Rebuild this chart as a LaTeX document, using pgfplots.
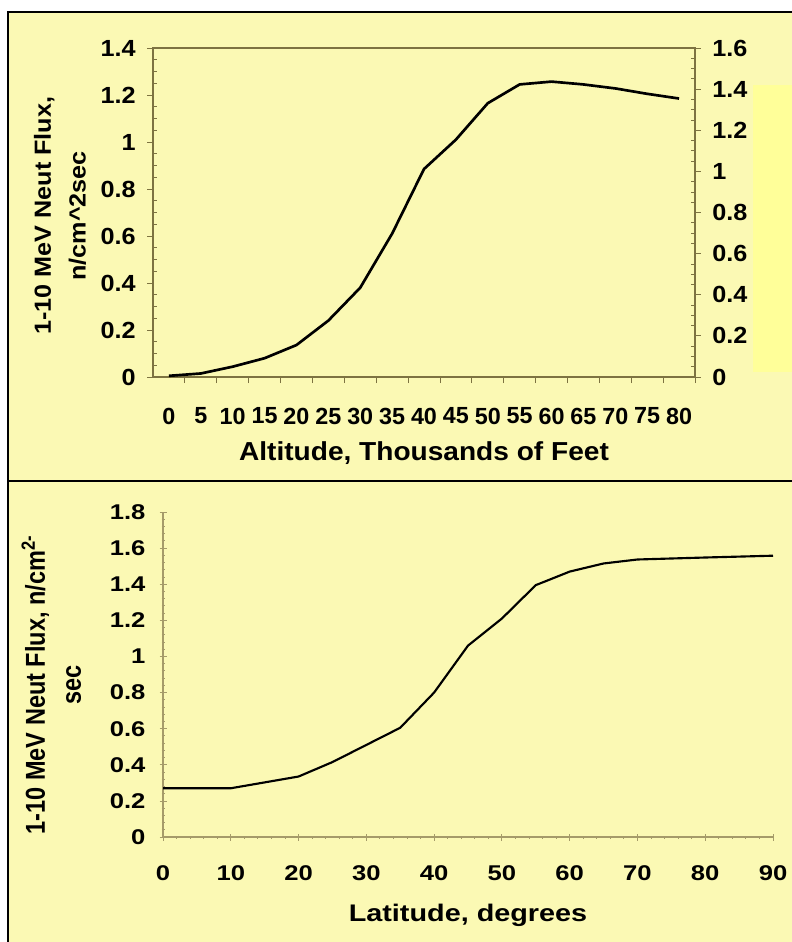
\documentclass[border=0pt]{standalone}
\usepackage{fontspec}
\usepackage{pgfplots}
\pgfplotsset{compat=1.18}
\setmainfont{Liberation Sans}
\newfontfamily\topfont{Liberation Sans}[FakeStretch=1.08]
\newfontfamily\plainfont{Liberation Sans}
\newfontfamily\botfont{Liberation Sans}[FakeStretch=1.2]
\newfontfamily\botyfont{Liberation Sans}[FakeStretch=0.86]
\definecolor{bg}{RGB}{251,249,180}
\definecolor{hl}{RGB}{255,255,153}
\definecolor{axc}{RGB}{125,115,65}
\definecolor{axc2}{RGB}{165,155,105}
\begin{document}
\begin{tikzpicture}
\useasboundingbox (0,0) rectangle (594pt,-706.5pt);
\fill[white] (0,0) rectangle (594pt,-706.5pt);
\fill[bg] (6pt,-9pt) rectangle (594pt,-706.5pt);
\fill[hl] (564.75pt,-63.75pt) rectangle (594pt,-279pt);
\draw[line width=1.6pt] (6pt,-706.5pt) -- (6pt,-9pt) -- (594pt,-9pt);
\draw[line width=1.6pt] (6pt,-360.75pt) -- (594pt,-360.75pt);

% ---------- top chart ----------
\begin{axis}[
  at={(114.75pt,-282.75pt)}, anchor=south west,
  scale only axis, width=406.5pt, height=246.75pt,
  xmin=-2.5, xmax=82.5, ymin=0, ymax=1.4,
  axis line style={draw=axc, line width=0.8pt},
  every tick/.style={draw=axc, line width=0.6pt},
  tick align=outside,
  major tick length=4.5pt, minor tick length=3pt,
  xtick={2.5,7.5,...,82.5},
  xticklabels={0,5,10,15,20,25,30,35,40,45,50,55,60,65,70,75,80},
  ytick={0,0.2,0.4,0.6,0.8,1,1.2,1.4},
  yticklabels={0,0.2,0.4,0.6,0.8,1,1.2,1.4},
  minor ytick={0.05,0.1,0.15,0.25,0.3,0.35,0.45,0.5,0.55,0.65,0.7,0.75,0.85,0.9,0.95,1.05,1.1,1.15,1.25,1.3,1.35},
  minor y tick style={xshift=3pt},
  xtick pos=bottom, ytick pos=left,
  /pgf/number format/assume math mode=true,
  yticklabel style={xshift=-5pt, font=\topfont\bfseries\fontsize{17.5}{19}\selectfont},
  xticklabel style={xshift=-11.96pt, yshift=-15pt, font=\plainfont\bfseries\fontsize{17.5}{19}\selectfont},
  xlabel={Altitude, Thousands of Feet},
  xlabel style={at={(axis description cs:0.5,-0.23)}, anchor=center, font=\topfont\bfseries\fontsize{19.5}{22}\selectfont},
  ylabel={1-10 MeV Neut Flux,\\n/cm\textasciicircum 2sec},
  ylabel style={at={(axis description cs:-0.1716,0.49)}, anchor=center, rotate=0, align=center, font=\topfont\bfseries\fontsize{17.5}{26}\selectfont},
]
\addplot[black, line width=2pt] coordinates {
 (0,0.005) (5,0.015) (10,0.044) (15,0.08) (20,0.136) (25,0.24) (30,0.38)
 (35,0.61) (40,0.885) (45,1.01) (50,1.165) (55,1.245) (60,1.257) (65,1.245)
 (70,1.228) (75,1.205) (80,1.185)
};
\end{axis}
\begin{axis}[
  at={(114.75pt,-282.75pt)}, anchor=south west,
  scale only axis, width=406.5pt, height=246.75pt,
  xmin=-2.5, xmax=82.5, ymin=0, ymax=1.6,
  axis x line=none, axis y line*=right,
  axis line style={draw=axc, line width=0.8pt, -},
  every tick/.style={draw=axc, line width=0.6pt},
  tick align=outside,
  major tick length=4.5pt, minor tick length=3pt,
  ytick={0,0.2,0.4,0.6,0.8,1,1.2,1.4,1.6},
  yticklabels={0,0.2,0.4,0.6,0.8,1,1.2,1.4,1.6},
  yticklabel style={xshift=5pt},
  minor y tick num=3,
  minor y tick style={xshift=-3pt},
  ticklabel style={font=\topfont\bfseries\fontsize{17.5}{19}\selectfont},
]
\addplot[draw=none] coordinates {(0,0) (80,0)};
\end{axis}

% ---------- bottom chart ----------
\begin{axis}[
  at={(122.25pt,-627.75pt)}, anchor=south west,
  scale only axis, width=457.5pt, height=243.75pt,
  xmin=0, xmax=90, ymin=0, ymax=1.8,
  axis x line*=bottom, axis y line*=left,
  axis line style={draw=axc2, line width=0.8pt, -},
  every tick/.style={draw=axc2, line width=0.6pt},
  tick align=center,
  major tick length=5.25pt, minor tick length=2.25pt,
  xtick={0,10,...,90},
  minor x tick num=4,
  ytick={0,0.2,0.4,0.6,0.8,1,1.2,1.4,1.6,1.8},
  yticklabels={0,0.2,0.4,0.6,0.8,1,1.2,1.4,1.6,1.8},
  minor y tick num=4,
  xticklabel style={yshift=-15pt},
  yticklabel style={xshift=-7pt},
  /pgf/number format/assume math mode=true,
  ticklabel style={font=\botfont\bfseries\fontsize{16}{18}\selectfont},
  xlabel={Latitude, degrees},
  xlabel style={at={(axis description cs:0.5,-0.24)}, anchor=center, font=\botfont\bfseries\fontsize{18}{20}\selectfont},
  ylabel={1-10 MeV Neut Flux, n/cm\textsuperscript{2-}\\sec},
  ylabel style={at={(axis description cs:-0.183,0.468)}, anchor=center, rotate=0, align=center, font=\botyfont\bfseries\fontsize{20.5}{27}\selectfont},
]
\addplot[black, line width=1.6pt] coordinates {
 (0,0.27) (10,0.27) (20,0.335) (25,0.415) (30,0.51) (35,0.605) (40,0.80)
 (45,1.06) (50,1.21) (55,1.395) (60,1.47) (65,1.515) (70,1.537) (80,1.548) (90,1.558)
};
\end{axis}
\end{tikzpicture}
\end{document}
